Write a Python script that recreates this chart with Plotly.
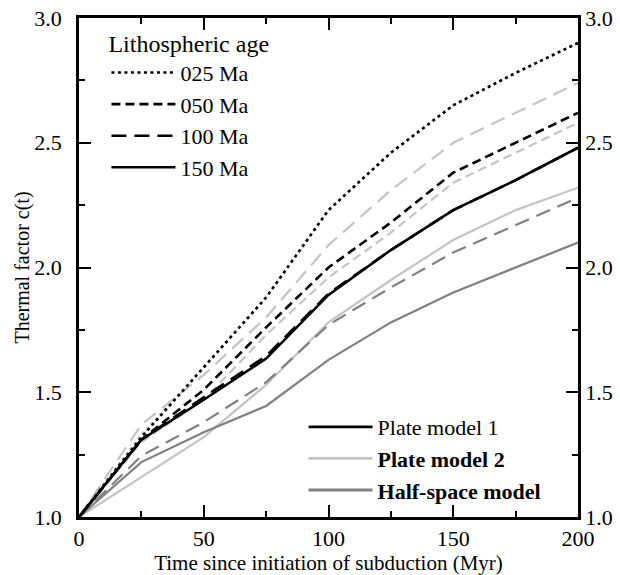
import plotly.graph_objects as go

time_myr = [0, 25, 50, 75, 100, 125, 150, 175, 200]

# Plate model 1 (black)
pm1_025 = [1.0, 1.32, 1.60, 1.88, 2.23, 2.46, 2.65, 2.78, 2.90]
pm1_050 = [1.0, 1.31, 1.51, 1.76, 2.00, 2.18, 2.38, 2.50, 2.62]
pm1_100 = [1.0, 1.31, 1.48, 1.645, 1.895, 2.07, 2.23, 2.35, 2.48]
pm1_150 = [1.0, 1.31, 1.47, 1.635, 1.89, 2.07, 2.23, 2.35, 2.48]
# Plate model 2 (light grey)
pm2_025 = [1.0, 1.33, 1.60, 1.88, 2.23, 2.46, 2.65, 2.78, 2.90]
pm2_050 = [1.0, 1.30, 1.47, 1.73, 1.96, 2.14, 2.34, 2.46, 2.58]
pm2_100 = [1.0, 1.37, 1.57, 1.80, 2.09, 2.31, 2.50, 2.62, 2.74]
pm2_150 = [1.0, 1.16, 1.32, 1.53, 1.78, 1.95, 2.11, 2.23, 2.32]
# Half-space model (dark grey)
hs_100 = [1.0, 1.245, 1.38, 1.54, 1.77, 1.92, 2.06, 2.17, 2.28]
hs_150 = [1.0, 1.22, 1.34, 1.445, 1.63, 1.78, 1.90, 2.00, 2.10]

x_ticks = [0, 50, 100, 150, 200]
x_minor = [25, 75, 125, 175]
y_ticks = [1.0, 1.5, 2.0, 2.5, 3.0]
y_minor = [1.25, 1.75, 2.25, 2.75]

age_labels = ["025 Ma", "050 Ma", "100 Ma", "150 Ma"]
model_labels = ["Plate model 1", "<b>Plate model 2</b>", "<b>Half-space model</b>"]

BLACK = "#000000"
LIGHT = "#c4c4c4"
DARK = "#808080"
DOT = "3px,3.5px"
DASH = "9px,5px"
LDASH = "15px,8px"
dash_styles = [DOT, DASH, LDASH, "solid"]
model_colors = [BLACK, LIGHT, DARK]

FONT = "Liberation Serif"

fig = go.Figure()

series = [
    (pm2_025, LIGHT, DOT, 2.5),
    (pm2_100, LIGHT, LDASH, 2.2),
    (pm2_050, LIGHT, DASH, 2.2),
    (pm2_150, LIGHT, "solid", 2.2),
    (hs_100, DARK, LDASH, 2.2),
    (hs_150, DARK, "solid", 2.2),
    (pm1_100, BLACK, LDASH, 2.6),
    (pm1_150, BLACK, "solid", 2.6),
    (pm1_050, BLACK, DASH, 2.6),
    (pm1_025, BLACK, DOT, 2.6),
]
for ys, col, dash, w in series:
    fig.add_trace(go.Scatter(x=time_myr, y=ys, mode="lines",
                             line=dict(color=col, dash=dash, width=w),
                             showlegend=False, hoverinfo="skip"))

for lab, d in zip(age_labels, dash_styles):
    fig.add_trace(go.Scatter(x=[None], y=[None], mode="lines", name=lab,
                             line=dict(color=BLACK, dash=d, width=2.6),
                             legend="legend"))
for lab, c in zip(model_labels, model_colors):
    fig.add_trace(go.Scatter(x=[None], y=[None], mode="lines", name=lab,
                             line=dict(color=c, width=2.8),
                             legend="legend2"))

axis_common = dict(
    showline=True, linecolor="black", linewidth=2.5,
    ticks="inside", ticklen=12, tickwidth=1.5, tickcolor="black",
    showgrid=False, zeroline=False, automargin=False,
    tickfont=dict(family=FONT, size=22, color="black"),
)
minor_x = dict(ticks="inside", ticklen=6, tickwidth=1.5, tickcolor="black", tickvals=x_minor)
minor_y = dict(ticks="inside", ticklen=6, tickwidth=1.5, tickcolor="black", tickvals=y_minor)

fig.update_layout(
    width=620, height=575,
    margin=dict(l=79, r=42, t=18, b=58, autoexpand=False),
    plot_bgcolor="white", paper_bgcolor="white",
    font=dict(family=FONT, color="black", size=21),
    xaxis=dict(range=[0, 200], tickvals=x_ticks, minor=minor_x, ticklabelstandoff=0,
               title=dict(text="Time since initiation of subduction (Myr)",
                          font=dict(family=FONT, size=21), standoff=0),
               **axis_common),
    xaxis2=dict(range=[0, 200], overlaying="x", side="top", anchor="y",
                tickvals=x_ticks, showticklabels=False, minor=minor_x,
                **axis_common),
    yaxis=dict(range=[1.0, 3.0], tickvals=y_ticks, tickformat=".1f", minor=minor_y,
               ticklabelstandoff=10,
               title=dict(text="Thermal factor c(t)", font=dict(family=FONT, size=20), standoff=0),
               **axis_common),
    yaxis2=dict(range=[1.0, 3.0], overlaying="y", side="right", anchor="x",
                tickvals=y_ticks, tickformat=".1f", minor=minor_y,
                **axis_common),
    legend=dict(x=0.055, y=0.995, xanchor="left", yanchor="top",
                bgcolor="rgba(0,0,0,0)", borderwidth=0,
                title=dict(text="Lithospheric age", font=dict(family=FONT, size=24)),
                font=dict(family=FONT, size=22, color="black"),
                tracegroupgap=0, itemwidth=64),
    legend2=dict(x=0.45, y=0.012, xanchor="left", yanchor="bottom",
                 bgcolor="rgba(0,0,0,0)", borderwidth=0,
                 font=dict(family=FONT, size=22, color="black"),
                 tracegroupgap=0, itemwidth=64),
)

# dummy trace bound to secondary axes so they render
fig.add_trace(go.Scatter(x=[None], y=[None], xaxis="x2", yaxis="y2",
                         showlegend=False, hoverinfo="skip"))

fig.write_html("out.html")
